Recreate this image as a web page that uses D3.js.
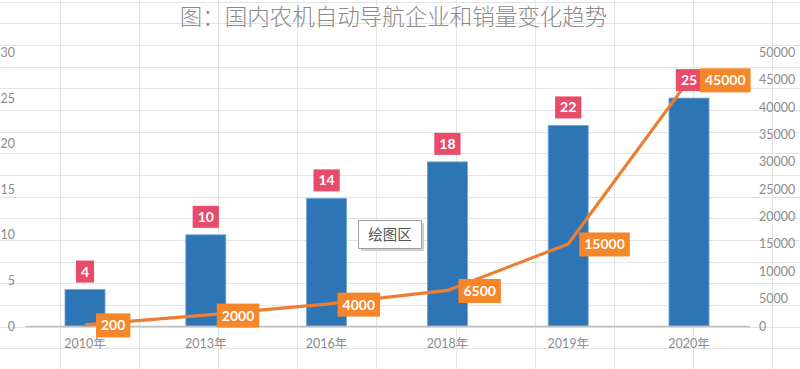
<!DOCTYPE html>
<html><head><meta charset="utf-8">
<script src="https://cdn.jsdelivr.net/npm/d3@7"></script>
<style>body{margin:0;background:#fff;}svg{display:block;}</style>
</head><body>
<svg id="c" width="800" height="369"></svg>
<script>
const title = "图：国内农机自动导航企业和销量变化趋势";
const categories = ["2010年","2013年","2016年","2018年","2019年","2020年"];
const companies = [4,10,14,18,22,25];
const sales = [200,2000,4000,6500,15000,45000];
const leftTicks = [0,5,10,15,20,25,30];
const rightTicks = [0,5000,10000,15000,20000,25000,30000,35000,40000,45000,50000];
const plotAreaLabel = "绘图区";

const svg = d3.select("#c");
const W = 800, H = 369;
const font = "Lato, 'Noto Sans CJK SC', sans-serif";

// worksheet cell grid (background)
const gx = d3.range(59.5, W, 79.2), gy = d3.range(1.5, H, 21.67);
const grid = svg.append("g").attr("stroke","#e4e4e4").attr("stroke-width",1);
grid.selectAll(".v").data(gx).join("line").attr("x1",d=>Math.round(d)+0.5).attr("x2",d=>Math.round(d)+0.5).attr("y1",0).attr("y2",H);
grid.selectAll(".h").data(gy).join("line").attr("y1",d=>Math.round(d)+0.5).attr("y2",d=>Math.round(d)+0.5).attr("x1",0).attr("x2",W);

const x = d3.scaleBand(categories,[24.6,749.4]).paddingInner(0.669).paddingOuter(0.3345);
const yL = d3.scaleLinear([0,30],[326,52.5]);
const yR = d3.scaleLinear([0,50000],[326,52.5]);
const cx = d => x(d) + x.bandwidth()/2;

// title
svg.append("text").attr("x",393.5).attr("y",25).attr("text-anchor","middle")
  .attr("font-family","'Noto Sans CJK SC', sans-serif").attr("font-weight",300)
  .attr("font-size",22.5).attr("fill","#8a8a8a").text(title);

// left axis
const axL = svg.append("g").attr("transform","translate(15,0)")
  .call(d3.axisLeft(yL).tickValues(leftTicks).tickSize(0).tickPadding(0));
axL.select(".domain").remove();
axL.selectAll("text").attr("font-family",font).attr("font-size",12.5).attr("fill","#8c8c8c");

// right axis
const axR = svg.append("g").attr("transform","translate(759,0)")
  .call(d3.axisRight(yR).tickValues(rightTicks).tickSize(0).tickPadding(0).tickFormat(d3.format("d")));
axR.select(".domain").remove();
axR.selectAll("text").attr("font-family",font).attr("font-size",12.5).attr("fill","#8c8c8c");

// bars
svg.append("g").selectAll("rect").data(categories).join("rect")
  .attr("x",d=>x(d)).attr("width",x.bandwidth())
  .attr("y",(d,i)=>yL(companies[i])).attr("height",(d,i)=>yL(0)-yL(companies[i]))
  .attr("fill","#2e75b6").attr("stroke","#6aa3d8").attr("stroke-width",0.8);

// x axis
const axB = svg.append("g").attr("transform",`translate(0,${yL(0)})`)
  .call(d3.axisBottom(x).tickSize(0).tickPadding(13));
axB.select(".domain").attr("stroke","#bfbfbf").attr("stroke-width",1.3);
axB.selectAll("text").attr("font-family",font).attr("font-size",12.5).attr("fill","#8c8c8c");

// line
const line = d3.line().x((d,i)=>cx(categories[i])).y(d=>yR(d));
svg.append("path").datum(sales).attr("d",line).attr("fill","none")
  .attr("stroke","#ed7d31").attr("stroke-width",3.2).attr("stroke-linejoin","round");

// labels helper
function label(g, txt, fill, placer){
  const t = g.append("text").attr("font-family",font).attr("font-weight",700)
    .attr("font-size",14).attr("fill","#fff").text(txt);
  const w = t.node().getComputedTextLength();
  const bw = w + 10;
  const [bx, by, bh] = placer(bw);
  g.insert("rect","text").attr("x",bx).attr("y",by).attr("width",bw).attr("height",bh).attr("fill",fill);
  t.attr("x",bx+bw/2).attr("y",by+bh/2).attr("text-anchor","middle").attr("dy","0.36em");
}
const lg = svg.append("g");
categories.forEach((c,i)=>{
  label(lg.append("g"), String(companies[i]), "#e94c6b", bw => [cx(c)-bw/2, yL(companies[i])-7-22, 22]);
});
categories.forEach((c,i)=>{
  label(lg.append("g"), String(sales[i]), "#f6862a", bw => [cx(c)+11, yR(sales[i])-11.5, 24]);
});

// plot area tooltip
const tip = svg.append("g");
tip.append("rect").attr("x",361).attr("y",223).attr("width",63).attr("height",28).attr("fill","#cfcfcf");
tip.append("rect").attr("x",358.5).attr("y",220.5).attr("width",63).attr("height",28).attr("fill","#fff").attr("stroke","#a0a0a0").attr("stroke-width",1);
tip.append("text").attr("x",390).attr("y",235).attr("dy","0.36em").attr("text-anchor","middle")
  .attr("font-family","'Noto Sans CJK SC', sans-serif").attr("font-size",14.5).attr("fill","#555").text(plotAreaLabel);
</script>
</body></html>
